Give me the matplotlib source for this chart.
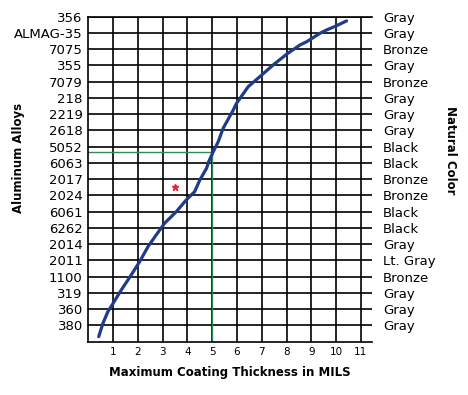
import numpy as np
import matplotlib
matplotlib.use("Agg")
import matplotlib.pyplot as plt

# alloys and natural colours, listed top to bottom as on the chart
alloys_top = ["356", "ALMAG-35", "7075", "355", "7079", "218", "2219", "2618",
              "5052", "6063", "2017", "2024", "6061", "6262", "2014", "2011",
              "1100", "319", "360", "380"]
colors_top = ["Gray", "Gray", "Bronze", "Gray", "Bronze", "Gray", "Gray", "Gray",
              "Black", "Black", "Bronze", "Bronze", "Black", "Black", "Gray",
              "Lt. Gray", "Bronze", "Gray", "Gray", "Gray"]
alloys = alloys_top[::-1]
colors = colors_top[::-1]
rows = np.arange(1, len(alloys) + 1)

x_ticks = list(range(1, 12))

# thickness curve (thickness, row position)
curve_x = [0.42, 0.59, 0.79, 1.00, 1.33, 1.73, 2.07, 2.41, 2.74, 3.08, 3.55,
           3.95, 4.29, 4.50, 4.77, 4.86, 5.04, 5.24, 5.44, 5.85, 5.98, 6.45,
           6.92, 7.46, 8.00, 8.54, 8.81, 9.35, 9.61, 9.95, 10.42]
curve_y = [0.31, 1.13, 1.85, 2.36, 3.18, 4.10, 4.92, 5.85, 6.57, 7.29, 8.00,
           8.72, 9.23, 9.95, 10.67, 11.08, 11.69, 12.30, 13.13, 14.26, 14.67, 15.69,
           16.31, 17.03, 17.69, 18.26, 18.46, 18.98, 19.18, 19.40, 19.74]

# reference marker at 5 mils
ref_x = 5.0
ref_y = 11.7
star_x, star_y = 3.5, 9.5

fig = plt.figure(figsize=(4.68, 3.95), dpi=100)
ax = fig.add_axes([0.1887, 0.135, 0.795 - 0.1887, 0.9577 - 0.135])
xmax = 11.45
ax.set_xlim(0, xmax)
ax.set_ylim(0, 20)

# grid
for r in rows:
    ax.axhline(r, color="black", lw=1.2, zorder=1)
for xv in x_ticks:
    ax.axvline(xv, color="black", lw=1.2, zorder=1)

for side in ["left", "bottom", "top"]:
    ax.spines[side].set_linewidth(1.2)
ax.spines["right"].set_visible(False)

# green reference lines
ax.plot([0, ref_x], [ref_y, ref_y], color="#2e8b57", lw=1.0, zorder=2)
ax.plot([ref_x, ref_x], [0, ref_y], color="#2e8b57", lw=1.0, zorder=2)

ax.plot(curve_x, curve_y, color="#1f3c88", lw=2.3, solid_capstyle="round",
        solid_joinstyle="round", zorder=3)
ax.plot([star_x], [star_y], marker="*", color="#e8203a", ms=5, zorder=4)

ax.set_yticks(rows)
ax.set_yticklabels(alloys, fontsize=9.5)
ax.tick_params(axis="y", length=0, pad=4)
ax.set_xticks(x_ticks)
ax.set_xticklabels([str(v) for v in x_ticks], fontsize=7.5)
ax.tick_params(axis="x", length=0, pad=4)

ax2 = ax.twinx()
ax2.set_ylim(0, 20)
ax2.set_yticks(rows)
ax2.set_yticklabels(colors, fontsize=9.5)
ax2.tick_params(axis="y", length=0, pad=8)
for s in ax2.spines.values():
    s.set_visible(False)

ax.set_xlabel("Maximum Coating Thickness in MILS", fontsize=8.5, fontweight="bold", labelpad=6)
fig.text(0.04, 0.60, "Aluminum Alloys", rotation=90, fontsize=8.5,
         fontweight="bold", ha="center", va="center")
fig.text(0.962, 0.62, "Natural Color", rotation=270, fontsize=8.5,
         fontweight="bold", ha="center", va="center")

fig.savefig("out.png", dpi=100)
